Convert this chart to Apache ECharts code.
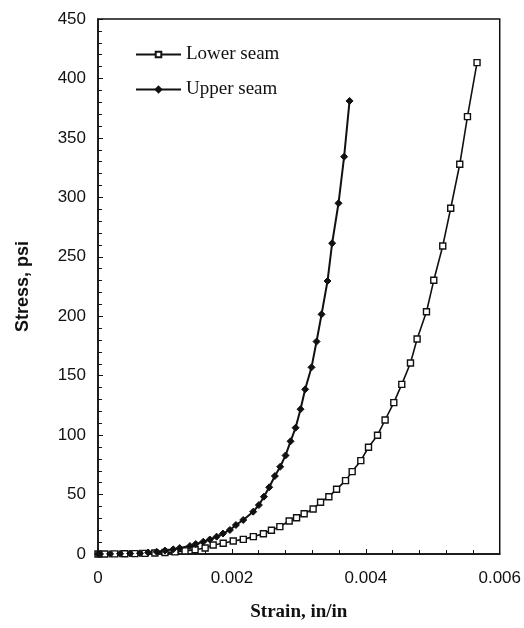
<!DOCTYPE html>
<html>
<head>
<meta charset="utf-8">
<script src="https://cdn.jsdelivr.net/npm/echarts@6/dist/echarts.min.js"></script>
<style>
html,body{margin:0;padding:0;background:#fff;}
#chart{width:524px;height:628px;}
</style>
</head>
<body>
<div id="chart"></div>
<script>
const seriesNames = ['Lower seam', 'Upper seam'];

const lowerStrain = [0, 0.0001, 0.00025, 0.0004, 0.00055, 0.0007, 0.00085, 0.001, 0.00115, 0.0013, 0.00145, 0.0016,
  0.00172, 0.00187, 0.00202, 0.00217, 0.00232, 0.00247, 0.00259, 0.002716, 0.002855, 0.002966, 0.003079, 0.003213,
  0.003324, 0.003448, 0.003563, 0.003697, 0.003796, 0.003925, 0.00404, 0.004175, 0.004288, 0.004418, 0.004537,
  0.004667, 0.004766, 0.004906, 0.005015, 0.005149, 0.005268, 0.005403, 0.005518, 0.005661];
const lowerStress = [0, 0, 0.1, 0.2, 0.3, 0.5, 0.8, 1.2, 1.8, 2.6, 3.6, 5.0,
  7.6, 9.0, 10.9, 12.3, 14.6, 17.0, 20.0, 23.0, 27.8, 30.5, 33.9, 37.9,
  43.5, 48.2, 54.4, 61.7, 69.3, 78.5, 89.8, 99.9, 112.7, 127.3, 142.7,
  160.7, 180.9, 203.8, 230.2, 259.1, 290.8, 327.8, 367.9, 413.3];

const upperStrain = [0, 0.00003, 0.00018, 0.00033, 0.00048, 0.000627, 0.00075, 0.000876, 0.001, 0.001124, 0.00122,
  0.001373, 0.00146, 0.001572, 0.00167, 0.001772, 0.001866, 0.00197, 0.00206, 0.002169, 0.002318, 0.002403,
  0.002478, 0.002557, 0.002642, 0.002721, 0.002801, 0.002876, 0.002951, 0.003025, 0.003094, 0.003189,
  0.003264, 0.003339, 0.003428, 0.003497, 0.003592, 0.003676, 0.003757];
const upperStress = [0, 0, 0.1, 0.2, 0.4, 0.6, 1.3, 1.9, 2.9, 3.9, 5.0,
  6.7, 8.4, 10.3, 12.2, 14.6, 17.2, 20.2, 24.4, 28.6, 35.6, 41.2,
  48.2, 56.1, 65.6, 73.4, 82.9, 94.8, 106.2, 121.8, 138.5, 157.0,
  178.7, 201.6, 229.6, 261.4, 295.0, 334.2, 381.1];

const xTicks = [0, 0.002, 0.004, 0.006];
const yTicks = [0, 50, 100, 150, 200, 250, 300, 350, 400, 450];

function pairs(xs, ys) { return xs.map((x, i) => [x, ys[i]]); }

const chart = echarts.init(document.getElementById('chart'), null, {renderer: 'canvas'});
const ink = '#111';
chart.setOption({
  animation: false,
  backgroundColor: '#fff',
  grid: {left: 98, right: 24, top: 19, bottom: 74, show: true, borderColor: ink, borderWidth: 1.5, backgroundColor: 'transparent'},
  legend: {
    orient: 'vertical', left: 130, top: 40, itemWidth: 45, itemHeight: 7, itemGap: 16,
    textStyle: {fontFamily: '"Liberation Serif", "Times New Roman", serif', fontSize: 19, color: ink},
    data: seriesNames
  },
  xAxis: {
    type: 'value', min: xTicks[0], max: xTicks[xTicks.length - 1], interval: 0.002,
    name: 'Strain, in/in', nameLocation: 'middle', nameGap: 49,
    nameTextStyle: {fontFamily: '"Liberation Serif", "Times New Roman", serif', fontWeight: 'bold', fontSize: 19, color: ink},
    axisLine: {lineStyle: {color: ink, width: 1.5}},
    axisTick: {inside: true, length: 5, lineStyle: {color: ink}},
    minorTick: {show: true, splitNumber: 5, length: 4, lineStyle: {color: ink}},
    splitLine: {show: false},
    axisLabel: {margin: 16, fontFamily: '"Liberation Sans", Arial, sans-serif', fontSize: 17, color: ink,
      formatter: v => v === 0 ? '0' : v.toFixed(3)}
  },
  yAxis: {
    type: 'value', min: yTicks[0], max: yTicks[yTicks.length - 1], interval: 50,
    name: 'Stress, psi', nameLocation: 'middle', nameGap: 66,
    nameTextStyle: {fontFamily: '"Liberation Sans", Arial, sans-serif', fontWeight: 'bold', fontSize: 18, color: ink},
    axisLine: {lineStyle: {color: ink, width: 1.5}},
    axisTick: {inside: true, length: 5, lineStyle: {color: ink}},
    minorTick: {show: true, splitNumber: 5, length: 4, lineStyle: {color: ink}},
    splitLine: {show: false},
    axisLabel: {margin: 12, fontFamily: '"Liberation Sans", Arial, sans-serif', fontSize: 17, color: ink}
  },
  series: [
    {
      name: seriesNames[0], type: 'line', data: pairs(lowerStrain, lowerStress),
      symbol: 'rect', symbolSize: 6, showAllSymbol: true,
      lineStyle: {color: ink, width: 1.6},
      itemStyle: {color: '#fff', borderColor: ink, borderWidth: 1.4}
    },
    {
      name: seriesNames[1], type: 'line', data: pairs(upperStrain, upperStress),
      symbol: 'diamond', symbolSize: 7, showAllSymbol: true,
      lineStyle: {color: ink, width: 2},
      itemStyle: {color: ink, borderColor: ink, borderWidth: 1}
    }
  ]
});
</script>
</body>
</html>
